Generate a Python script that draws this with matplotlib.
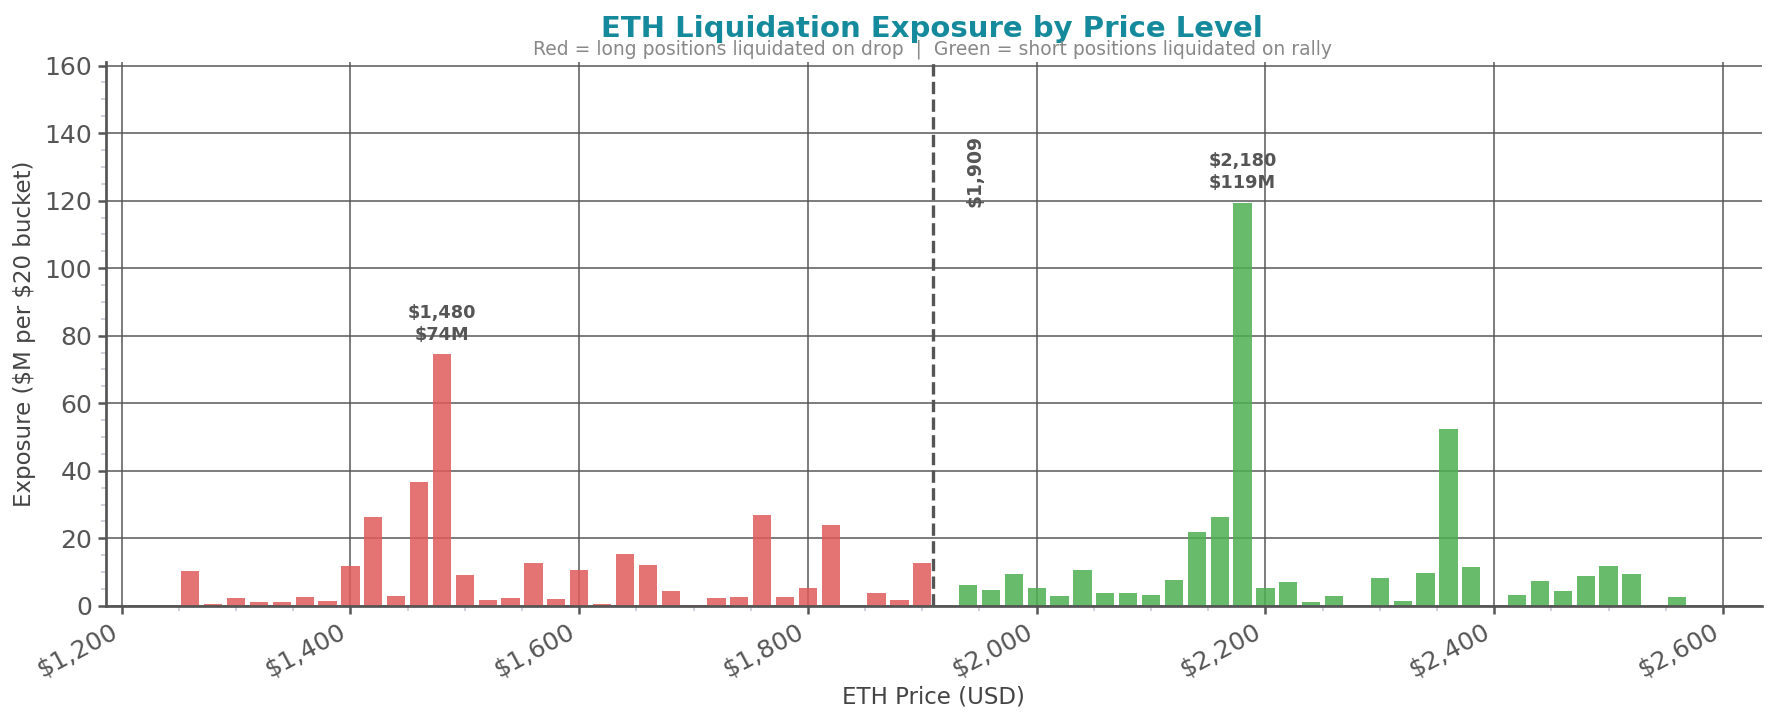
import numpy as np
import matplotlib
matplotlib.use("Agg")
import matplotlib.pyplot as plt
from matplotlib.ticker import FuncFormatter, MultipleLocator, AutoMinorLocator

# current price and bucket data ($M per $20 bucket)
current_price = 1909

long_prices = [1260, 1280, 1300, 1320, 1340, 1360, 1380, 1400, 1420, 1440,
               1460, 1480, 1500, 1520, 1540, 1560, 1580, 1600, 1620, 1640,
               1660, 1680, 1700, 1720, 1740, 1760, 1780, 1800, 1820, 1840,
               1860, 1880, 1900]
long_values = [10.4, 0.7, 2.2, 1.0, 1.0, 2.5, 1.3, 11.9, 26.2, 2.8,
               36.8, 74.5, 9.2, 1.6, 2.2, 12.8, 1.9, 10.7, 0.7, 15.3,
               12.2, 4.3, 0.4, 2.2, 2.5, 26.8, 2.5, 5.3, 24.0, 0.0,
               3.7, 1.6, 12.8]

short_prices = [1940, 1960, 1980, 2000, 2020, 2040, 2060, 2080, 2100, 2120,
                2140, 2160, 2180, 2200, 2220, 2240, 2260, 2300, 2320, 2340,
                2360, 2380, 2420, 2440, 2460, 2480, 2500, 2520, 2560]
short_values = [6.2, 4.6, 9.5, 5.3, 2.8, 10.7, 3.7, 3.7, 3.1, 7.7,
                21.9, 26.2, 119.4, 5.3, 7.1, 1.0, 2.8, 8.3, 1.3, 9.8,
                52.3, 11.6, 3.1, 7.4, 4.3, 8.9, 11.9, 9.5, 2.5]

peak_long = (1480, 74.5)
peak_short = (2180, 119.4)

fig = plt.figure(figsize=(11.84, 4.82), dpi=150)
ax = fig.add_axes([0.0595, 0.162, 0.9325, 0.752])

ax.bar(long_prices, long_values, width=16, color="#e05a5a", alpha=0.85, zorder=2)
ax.bar(short_prices, short_values, width=16, color="#4caf50", alpha=0.85, zorder=2)

ax.axvline(current_price, color="#555555", linestyle="--", linewidth=1.6, zorder=3)
ax.text(current_price + 37, 118, "$1,909", rotation=90, ha="center", va="bottom",
        fontsize=9, fontweight="bold", color="#555555")

for px, val in [peak_long, peak_short]:
    ax.annotate(f"${px:,}\n${val:.0f}M", xy=(px, val), xytext=(0, 5),
                textcoords="offset points", ha="center", va="bottom",
                fontsize=8.5, fontweight="bold", color="#555555", linespacing=1.3)

ax.set_xlim(1186, 2634)
ax.set_ylim(0, 161)

ax.xaxis.set_major_locator(MultipleLocator(200))
ax.xaxis.set_minor_locator(AutoMinorLocator(4))
ax.yaxis.set_major_locator(MultipleLocator(20))
ax.yaxis.set_minor_locator(AutoMinorLocator(4))
ax.xaxis.set_major_formatter(FuncFormatter(lambda v, p: f"${v:,.0f}"))

ax.grid(True, which="major", color="#555555", linewidth=0.8, alpha=0.9, zorder=1)
ax.set_axisbelow(True)

for s in ["top", "right"]:
    ax.spines[s].set_visible(False)
for s in ["left", "bottom"]:
    ax.spines[s].set_color("#555555")
    ax.spines[s].set_linewidth(1.3)

ax.tick_params(axis="both", which="major", labelsize=12, colors="#555555",
               length=4, width=1.2, pad=2.5)
ax.tick_params(axis="both", which="minor", length=2.5, width=0.8, colors="#c8c8d8")
plt.setp(ax.get_xticklabels(), rotation=28, ha="right")

ax.set_xlabel("ETH Price (USD)", fontsize=11, color="#444444", labelpad=2)
ax.set_ylabel("Exposure (\\$M per \\$20 bucket)", fontsize=11, color="#444444")

fig.text(0.525, 0.96, "ETH Liquidation Exposure by Price Level", ha="center",
         va="center", fontsize=14, fontweight="bold", color="#148a9c")
fig.text(0.525, 0.932, "Red = long positions liquidated on drop  |  Green = short positions liquidated on rally",
         ha="center", va="center", fontsize=9, color="#888888")

fig.savefig("out.png", dpi=150)
